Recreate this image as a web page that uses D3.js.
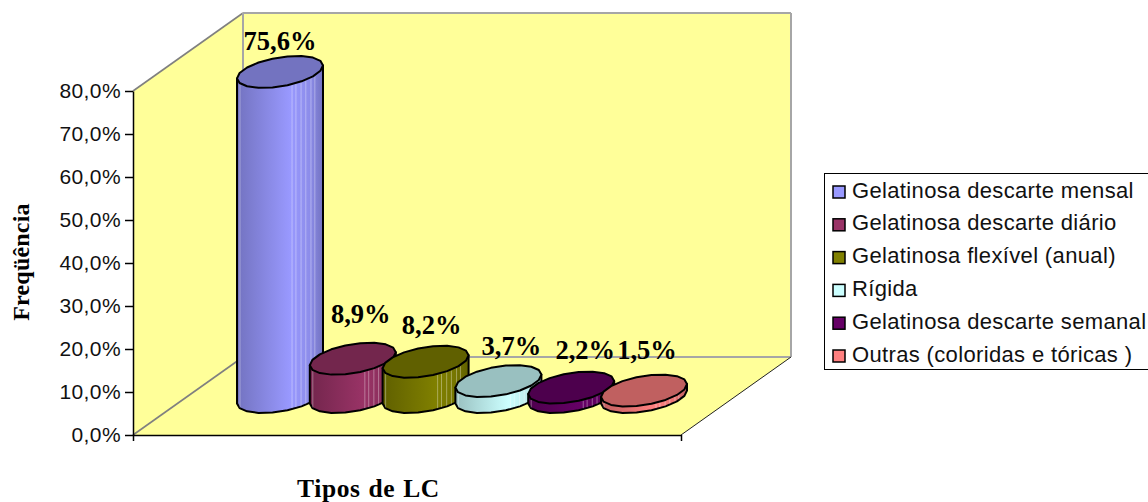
<!DOCTYPE html>
<html lang="pt">
<head>
<meta charset="utf-8">
<script src="https://cdn.jsdelivr.net/npm/d3@7/dist/d3.min.js"></script>
<style>
html,body{margin:0;padding:0;background:#fff}
svg{display:block}
</style>
</head>
<body>
<svg id="chart" width="1148" height="502"></svg>
<script>
// Contact lens types and their share of wearers
const categories = ["Gelatinosa descarte mensal","Gelatinosa descarte diário","Gelatinosa flexível (anual)","Rígida","Gelatinosa descarte semanal","Outras (coloridas e tóricas )"];
const values = [75.6, 8.9, 8.2, 3.7, 2.2, 1.5];
const valueLabels = ["75,6%","8,9%","8,2%","3,7%","2,2%","1,5%"];
const colors = ["#9999FF","#993366","#808000","#CCFFFF","#660066","#FF8080"];
const yTicks = [0,10,20,30,40,50,60,70,80];

const svg = d3.select("#chart");
const defs = svg.append("defs");

// 3D box: front plane plus a depth offset to the back plane
const frontPlane = {x0:133, x1:681};
const depth = {dx:110, dy:-78};
const y = d3.scaleLinear().domain([0,80]).range([435,91]);
const x = d3.scalePoint().domain(categories).range([280,644]);
const baseY = y(0) - 38;                // floor level of the cylinder axis
const rx = 43, ry = 14.6, skew = 6.5;   // cap ellipse, sheared to sit on the floor plane

const wall = "#FFFF99", edge = "#808080";
const poly = pts => "M" + pts.map(p => p.join(",")).join("L") + "Z";
const yTop = y(80), yBottom = y(0);
const bl = [frontPlane.x0,yBottom], br = [frontPlane.x1,yBottom], tl = [frontPlane.x0,yTop];
const toBack = p => [p[0]+depth.dx, p[1]+depth.dy];

// Walls and floor
svg.append("path").attr("d", poly([tl, toBack(tl), toBack(bl), bl])).attr("fill",wall);
svg.append("path").attr("d", poly([toBack(tl), [toBack(br)[0],toBack(tl)[1]], toBack(br), toBack(bl)])).attr("fill",wall);
svg.append("path").attr("d", poly([bl, toBack(bl), toBack(br), br])).attr("fill",wall);

const seg = (a,b,c,w) => svg.append("line").attr("x1",a[0]).attr("y1",a[1]).attr("x2",b[0]).attr("y2",b[1]).attr("stroke",c).attr("stroke-width",w);
seg(tl, toBack(tl), edge, 1.6);
seg(toBack(tl), [toBack(br)[0],toBack(tl)[1]], "#A6A6A6", 2);
seg(toBack(tl), toBack(bl), "#A6A6A6", 2);
seg([toBack(br)[0],toBack(tl)[1]], toBack(br), "#A6A6A6", 2);
seg(toBack(bl), toBack(br), "#A6A6A6", 2);
seg(bl, toBack(bl), edge, 1.6);
seg(br, toBack(br), "#222", 1);

// Value axis
const yAxis = d3.axisLeft(y).tickValues(yTicks).tickSize(8).tickSizeOuter(0).tickPadding(4)
  .tickFormat(d => d.toFixed(1).replace(".",",") + "%");
const gy = svg.append("g").attr("transform",`translate(${frontPlane.x0},0)`).call(yAxis);
gy.selectAll("text").attr("font-family","'Liberation Sans',Arial,sans-serif").attr("font-size",21).attr("letter-spacing",0.4).attr("fill","#111");
gy.selectAll("line,path").attr("stroke","#000").attr("stroke-width",1.5);

// Category axis: a baseline with end ticks only
const xEdge = d3.scaleLinear().domain([0,1]).range([frontPlane.x0,frontPlane.x1]);
const xAxis = d3.axisBottom(xEdge).tickValues([0,1]).tickSize(6).tickSizeOuter(0).tickFormat("");
const gx = svg.append("g").attr("transform",`translate(0,${yBottom})`).call(xAxis);
gx.selectAll("line,path").attr("stroke","#000").attr("stroke-width",1.5);

// Cap outline is a coarse polygon, which gives the slightly faceted edge
const capPoints = (cx,cy) => d3.range(18).map(i => {
  const t = i/18*2*Math.PI;
  return [cx + rx*Math.cos(t), cy - skew*Math.cos(t) + ry*Math.sin(t)];
});

categories.forEach((c,i) => {
  const col = d3.color(colors[i]);
  const dark = col.darker(0.8).formatHex();
  const mid = col.darker(0.25).formatHex();
  const id = "side"+i;
  const g = defs.append("linearGradient").attr("id",id);
  [[0,dark],[0.62,colors[i]],[0.85,mid],[1,dark]].forEach(s =>
    g.append("stop").attr("offset",s[0]).attr("stop-color",s[1]));

  const cx = x(c), h = y(0)-y(values[i]), tcy = baseY-h;

  // Side wall: the cap hides its upper end; the lower half of the base outline closes it
  const basePts = capPoints(cx,baseY).filter(p => (p[1]-baseY+skew*(p[0]-cx)/rx) >= -0.01)
    .sort((a,b)=>b[0]-a[0]);
  const side = [[cx+rx,tcy-skew]].concat(basePts, [[cx-rx,tcy+skew]]);
  svg.append("path").attr("d",poly(side))
    .attr("fill",`url(#${id})`).attr("stroke","#000").attr("stroke-width",2).attr("stroke-linejoin","round");

  // Faint vertical facets on the lit side of the wall
  [-0.93,0.28,0.37,0.49,0.6,0.72,0.81].forEach(f => {
    const fx = cx + rx*f;
    const arc = ry*Math.sqrt(1-f*f);
    const fy = baseY - skew*f + arc;
    const ty = tcy - skew*f + arc + 1;
    if (fy-1 > ty) svg.append("line").attr("x1",fx).attr("x2",fx).attr("y1",ty).attr("y2",fy-1)
      .attr("stroke","#fff").attr("stroke-opacity",0.35).attr("stroke-width",1);
  });

  svg.append("path").attr("d",poly(capPoints(cx,tcy)))
    .attr("fill",dark).attr("stroke","#000").attr("stroke-width",2).attr("stroke-linejoin","round");
});

// Value labels above the caps, each nudged clear of its neighbours
const labelNudge = [[0,-21.5],[8,-36],[6,-28],[13,-26.5],[14,-29],[3,-32]];
svg.append("g").selectAll("text").data(categories).join("text")
  .attr("x",(d,i) => x(d)+labelNudge[i][0])
  .attr("y",(d,i) => baseY-(y(0)-y(values[i]))+labelNudge[i][1])
  .attr("text-anchor","middle")
  .attr("font-family","'Liberation Serif','Times New Roman',serif")
  .attr("font-weight","bold").attr("font-size",26.5)
  .text((d,i) => valueLabels[i]);

// Axis titles
const titleFont = "'Liberation Serif','Times New Roman',serif";
svg.append("text").attr("x",368.5).attr("y",497).attr("text-anchor","middle")
  .attr("font-family",titleFont).attr("font-weight","bold").attr("font-size",25.5).attr("letter-spacing",0.6).attr("word-spacing",1).text("Tipos de LC");
svg.append("text").attr("transform","translate(29,262) rotate(-90)").attr("text-anchor","middle")
  .attr("font-family",titleFont).attr("font-weight","bold").attr("font-size",24).attr("letter-spacing",0.2).text("Freqüência");

// Legend: the frame runs off the right edge of the canvas
const legend = svg.append("g");
legend.append("rect").attr("x",824.5).attr("y",173.5).attr("width",340).attr("height",196)
  .attr("fill","#fff").attr("stroke","#000").attr("stroke-width",1);
const rowY = d3.scalePoint().domain(categories).range([192,356]);
const rows = legend.selectAll("g").data(categories).join("g")
  .attr("transform",d => `translate(0,${rowY(d)})`);
rows.append("rect").attr("x",833).attr("y",-6).attr("width",12).attr("height",12)
  .attr("fill",(d,i)=>colors[i]).attr("stroke","#000").attr("stroke-width",1.5);
rows.append("text").attr("x",852).attr("y",5.5)
  .attr("font-family","'Liberation Sans',Arial,sans-serif").attr("font-size",22).attr("letter-spacing",0.35).attr("fill","#111")
  .text(d => d);
</script>
</body>
</html>
